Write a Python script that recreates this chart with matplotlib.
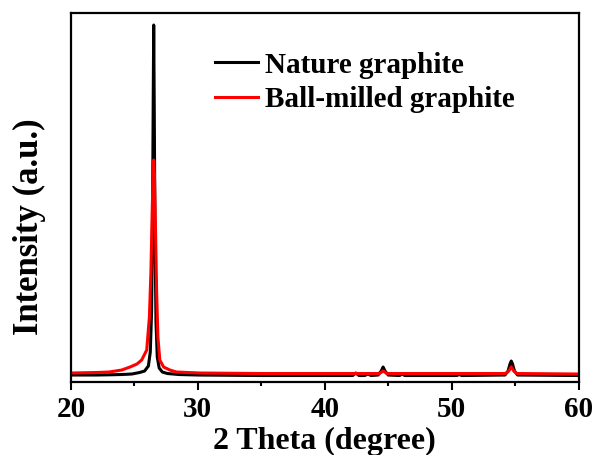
import numpy as np
import matplotlib.pyplot as plt
from matplotlib.ticker import MultipleLocator

# XRD patterns (2 theta in degree, intensity in arbitrary units)
theta_nat = [20.0, 22.0, 23.0, 24.0, 24.8, 25.4, 25.8, 26.1, 26.25, 26.35, 26.42, 26.48,
             26.52, 26.56, 26.62, 26.70, 26.80, 26.95, 27.2, 27.6, 28.5, 30.0, 35.0, 40.0,
             42.2, 42.45, 42.7, 43.15, 43.4, 43.65, 44.2, 44.45, 44.6, 44.75, 45.0,
             45.9, 46.1, 46.3, 50.4, 50.6, 50.8,
             54.2, 54.45, 54.6, 54.7, 54.8, 54.95, 55.2, 60.0]
int_nat = [7, 7, 7.2, 7.5, 8, 9.5, 11, 16, 30, 70, 150, 280,
           357, 280, 150, 60, 25, 14, 10, 8.5, 7.5, 7, 6.5, 6.5,
           6.5, 9, 6.5, 6.5, 8, 6.5, 7, 11, 15, 11, 7,
           6.5, 8, 6.5, 6.5, 7.5, 6.5,
           7, 11, 18, 21, 18, 11, 7, 6.5]

theta_ball = [20.0, 22.0, 23.0, 24.0, 24.65, 25.2, 25.57, 25.97, 26.18, 26.3, 26.4, 26.48,
              26.52, 26.57, 26.65, 26.75, 26.85, 27.0, 27.3, 27.8, 28.3, 30.2, 35.0, 40.0,
              44.3, 44.6, 44.9, 54.25, 54.5, 54.7, 54.9, 55.15, 60.0]
int_ball = [9, 9.5, 10, 12, 15, 18, 22, 32, 65, 110, 170, 215,
            222, 210, 160, 90, 45, 22, 15, 12, 10, 9, 8.5, 8.5,
            8.5, 11, 8.5, 8.5, 11, 15, 11, 8.5, 8]

plt.rcParams['font.family'] = 'Liberation Serif'
plt.rcParams['font.weight'] = 'bold'

fig = plt.figure(figsize=(5.95, 4.55), dpi=100)
ax = fig.add_axes([0.1193, 0.1604, 0.8530, 0.8110])

ax.plot(theta_nat, int_nat, color='black', lw=2.2, label='Nature graphite')
ax.plot(theta_ball, int_ball, color='red', lw=2.2, label='Ball-milled graphite')

ax.set_xlim(20, 60)
ax.set_ylim(0, 369)
ax.set_yticks([])
ax.xaxis.set_major_locator(MultipleLocator(10))
ax.xaxis.set_minor_locator(MultipleLocator(5))
ax.tick_params(axis='x', which='major', direction='out', length=6, width=1.5,
               labelsize=21, pad=4)
ax.tick_params(axis='x', which='minor', direction='out', length=3, width=1.5)
for s in ax.spines.values():
    s.set_linewidth(1.6)

ax.set_xlabel('2 Theta (degree)', fontsize=23, fontweight='bold', labelpad=3)
ax.set_ylabel('Intensity (a.u.)', fontsize=25, fontweight='bold', labelpad=18, y=0.42)

leg = ax.legend(loc='upper left', bbox_to_anchor=(0.255, 0.935), frameon=False,
                fontsize=21, handlelength=1.47, handletextpad=0.25,
                borderpad=0, labelspacing=0.27)

fig.savefig('out.png', dpi=100)
